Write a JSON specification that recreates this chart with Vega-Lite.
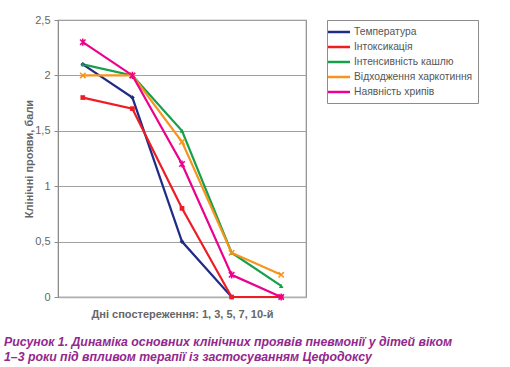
{
  "$schema": "https://vega.github.io/schema/vega-lite/v6.json",
  "width": 248,
  "height": 277,
  "autosize": {"type": "none"},
  "padding": {"left": 58, "top": 20, "right": 204, "bottom": 70},
  "background": "white",
  "config": {
    "view": {"stroke": "#8c8c8c", "strokeWidth": 1.2},
    "font": "Liberation Sans, sans-serif"
  },
  "title": {
    "text": ["Рисунок 1.  Динаміка основних клінічних проявів пневмонії у дітей віком", "1–3 роки під впливом терапії із застосуванням Цефодоксу"],
    "orient": "bottom",
    "anchor": "start",
    "frame": "group",
    "dx": -54,
    "offset": 17,
    "font": "Liberation Sans, sans-serif",
    "fontSize": 12.3,
    "fontStyle": "italic",
    "fontWeight": "bold",
    "color": "#93288e",
    "lineHeight": 15
  },
  "resolve": {"scale": {"shape": "independent"}},
  "data": {
    "values": [
      {"series": "Температура", "day": "1", "value": 2.1},
      {"series": "Температура", "day": "3", "value": 1.8},
      {"series": "Температура", "day": "5", "value": 0.5},
      {"series": "Температура", "day": "7", "value": 0},
      {"series": "Температура", "day": "10", "value": 0},
      {"series": "Інтоксикація", "day": "1", "value": 1.8},
      {"series": "Інтоксикація", "day": "3", "value": 1.7},
      {"series": "Інтоксикація", "day": "5", "value": 0.8},
      {"series": "Інтоксикація", "day": "7", "value": 0},
      {"series": "Інтоксикація", "day": "10", "value": 0},
      {"series": "Інтенсивність кашлю", "day": "1", "value": 2.1},
      {"series": "Інтенсивність кашлю", "day": "3", "value": 2.0},
      {"series": "Інтенсивність кашлю", "day": "5", "value": 1.5},
      {"series": "Інтенсивність кашлю", "day": "7", "value": 0.4},
      {"series": "Інтенсивність кашлю", "day": "10", "value": 0.1},
      {"series": "Відходження харкотиння", "day": "1", "value": 2.0},
      {"series": "Відходження харкотиння", "day": "3", "value": 2.0},
      {"series": "Відходження харкотиння", "day": "5", "value": 1.4},
      {"series": "Відходження харкотиння", "day": "7", "value": 0.4},
      {"series": "Відходження харкотиння", "day": "10", "value": 0.2},
      {"series": "Наявність хрипів", "day": "1", "value": 2.3},
      {"series": "Наявність хрипів", "day": "3", "value": 2.0},
      {"series": "Наявність хрипів", "day": "5", "value": 1.2},
      {"series": "Наявність хрипів", "day": "7", "value": 0.2},
      {"series": "Наявність хрипів", "day": "10", "value": 0}
    ]
  },
  "encoding": {
    "x": {
      "field": "day",
      "type": "ordinal",
      "sort": ["1", "3", "5", "7", "10"],
      "scale": {"type": "point", "padding": 0.5},
      "axis": {
        "title": "Дні спостереження: 1, 3, 5, 7, 10-й",
        "labels": false,
        "ticks": false,
        "domainColor": "#b0b0b0",
        "domainWidth": 1.5,
        "titleFont": "Liberation Sans, sans-serif",
        "titleFontSize": 11,
        "titleFontWeight": "bold",
        "titleColor": "#666666",
        "titlePadding": 11
      }
    },
    "y": {
      "field": "value",
      "type": "quantitative",
      "scale": {"domain": [0, 2.5], "nice": false},
      "axis": {
        "values": [0, 0.5, 1, 1.5, 2, 2.5],
        "format": "~g",
        "labelExpr": "replace(datum.label, '.', ',')",
        "title": "Клінічні прояви, бали",
        "titleFont": "Liberation Sans, sans-serif",
        "titleFontSize": 11,
        "titleFontWeight": "bold",
        "titleColor": "#666666",
        "titlePadding": 0,
        "labelFont": "Liberation Sans, sans-serif",
        "labelFontSize": 11,
        "labelColor": "#666666",
        "labelPadding": 4,
        "tickColor": "#8c8c8c",
        "tickSize": 4,
        "domainColor": "#8c8c8c",
        "gridColor": "#a0a0a0",
        "gridWidth": 1.2
      }
    },
    "color": {
      "field": "series",
      "type": "nominal",
      "scale": {
        "domain": ["Температура", "Інтоксикація", "Інтенсивність кашлю", "Відходження харкотиння", "Наявність хрипів"],
        "range": ["#1f2b86", "#ee1c24", "#16a04a", "#f7941d", "#ec008c"]
      },
      "legend": {
        "title": null,
        "orient": "none",
        "legendX": 269,
        "legendY": 0,
        "strokeColor": "#8c8c8c",
        "fillColor": "white",
        "padding": 5,
        "symbolType": "M-2,0L2,0",
        "symbolSize": 121,
        "symbolStrokeWidth": 2.5,
        "labelFont": "Liberation Sans, sans-serif",
        "labelFontSize": 10.3,
        "labelColor": "#555555",
        "labelOffset": 8,
        "rowPadding": 2,
        "labelLimit": 200
      }
    }
  },
  "layer": [
    {
      "mark": {"type": "line", "strokeWidth": 2.2}
    },
    {
      "transform": [{"filter": "indexof(['Температура','Інтоксикація','Інтенсивність кашлю'], datum.series) >= 0"}],
      "mark": {"type": "point", "filled": true, "size": 22, "opacity": 1},
      "encoding": {
        "shape": {
          "field": "series",
          "type": "nominal",
          "scale": {
            "domain": ["Температура", "Інтоксикація", "Інтенсивність кашлю"],
            "range": ["diamond", "square", "triangle-up"]
          },
          "legend": null
        }
      }
    },
    {
      "transform": [{"filter": "indexof(['Відходження харкотиння','Наявність хрипів'], datum.series) >= 0"}],
      "mark": {"type": "point", "filled": false, "size": 30, "strokeWidth": 1.5, "opacity": 1},
      "encoding": {
        "shape": {
          "field": "series",
          "type": "nominal",
          "scale": {
            "domain": ["Відходження харкотиння", "Наявність хрипів"],
            "range": ["M-1,-1L1,1M1,-1L-1,1", "M-1,-1L1,1M1,-1L-1,1M0,-1.3L0,1.3"]
          },
          "legend": null
        }
      }
    }
  ]
}
